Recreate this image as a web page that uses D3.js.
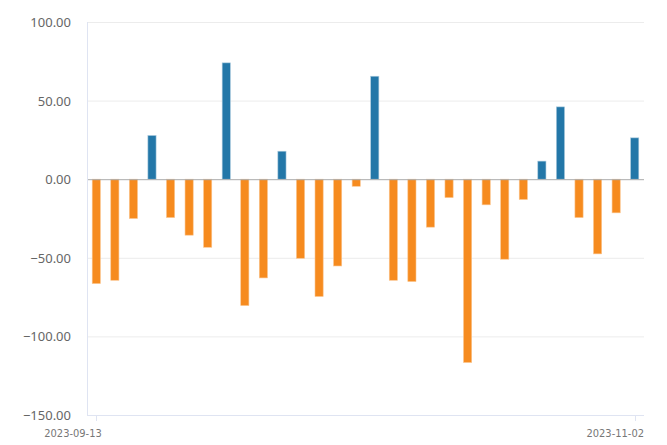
<!DOCTYPE html>
<meta charset="utf-8">
<style>
  body { margin: 0; background: #fff; }
  svg { font-family: "Noto Sans", "DejaVu Sans", sans-serif; }
  .ylab { fill: #666; font-size: 13px; text-anchor: end; }
  .xlab { fill: #777; font-size: 11px; font-family: "DejaVu Sans Condensed", "Liberation Sans Narrow", sans-serif; }
</style>
<svg id="chart" width="667" height="445"></svg>
<script src="https://d3js.org/d3.v7.min.js"></script>
<script>
// trading days (northbound closed 09-28 .. 10-06)
var dates = ["2023-09-13","2023-09-14","2023-09-15","2023-09-18","2023-09-19","2023-09-20",
  "2023-09-21","2023-09-22","2023-09-25","2023-09-26","2023-09-27","2023-10-09","2023-10-10",
  "2023-10-11","2023-10-12","2023-10-13","2023-10-16","2023-10-17","2023-10-18","2023-10-19",
  "2023-10-20","2023-10-23","2023-10-24","2023-10-25","2023-10-26","2023-10-27","2023-10-30",
  "2023-10-31","2023-11-01","2023-11-02"]
var values = [-66.4, -64.3, -25.0, 27.8, -24.4, -35.6, -43.3, 74.0, -80.4, -62.8,
  17.8, -50.3, -74.6, -55.2, -4.5, 65.5, -64.3, -65.1, -30.5, -11.7,
  -116.6, -16.3, -50.9, -12.9, 11.5, 46.0, -24.4, -47.5, -21.4, 26.3]
var yTicks = [-150, -100, -50, 0, 50, 100]
var shownDates = ["2023-09-13", "2023-11-02"]

var plotL = 87, plotR = 644, plotT = 22, plotB = 415

var svg = d3.select("#chart")

var x = d3.scaleBand().domain(dates).range([plotL, plotR]).paddingInner(0.56).paddingOuter(0.28)
var y = d3.scaleLinear().domain([-150, 100]).range([plotB, plotT])

// grid
svg.append("g").selectAll("line")
  .data(yTicks.filter(function(d) { return d != 0 && d != -150 }))
  .enter().append("line")
  .attr("x1", plotL).attr("x2", plotR)
  .attr("y1", function(d) { return y(d) + 0.5 }).attr("y2", function(d) { return y(d) + 0.5 })
  .style("stroke", "#ececec").style("stroke-width", 1)

// y labels
svg.append("g").selectAll("text")
  .data(yTicks).enter().append("text")
  .attr("class", "ylab")
  .attr("x", 71).attr("y", function(d) { return y(d) + 5 })
  .text(function(d) { return d.toFixed(2).replace("-", "\u2212") })

// bars
svg.append("g").selectAll("rect")
  .data(values).enter().append("rect")
  .attr("x", function(d, i) { return x(dates[i]) })
  .attr("width", x.bandwidth())
  .attr("y", function(d) { return d > 0 ? y(d) : y(0) })
  .attr("height", function(d) { return Math.abs(y(d) - y(0)) })
  .style("fill", function(d) { return d > 0 ? "#2377a8" : "#f68b1f" })
  .style("stroke", function(d) { return d > 0 ? "#a9c9dd" : "#fbc58f" })
  .style("stroke-width", 0.6)

// zero line
svg.append("line")
  .attr("x1", plotL).attr("x2", plotR)
  .attr("y1", y(0) + 0.5).attr("y2", y(0) + 0.5)
  .style("stroke", "#aaa").style("stroke-width", 1)

// axes lines
svg.append("line")
  .attr("x1", plotL + 0.5).attr("x2", plotL + 0.5).attr("y1", plotT).attr("y2", plotB)
  .style("stroke", "#dfe4f2")
svg.append("line")
  .attr("x1", plotL).attr("x2", plotR).attr("y1", plotB + 0.5).attr("y2", plotB + 0.5)
  .style("stroke", "#dfe4f2")

// x ticks + labels
var xt = svg.append("g").selectAll("g").data(shownDates).enter().append("g")
xt.append("line")
  .attr("x1", function(d) { return Math.round(x(d) + x.bandwidth() / 2) + 0.5 })
  .attr("x2", function(d) { return Math.round(x(d) + x.bandwidth() / 2) + 0.5 })
  .attr("y1", plotB).attr("y2", plotB + 6)
  .style("stroke", "#dfe4f2")
xt.append("text")
  .attr("class", "xlab")
  .attr("x", function(d, i) { return i == 0 ? x(d) + x.bandwidth() / 2 - 52 : 644 })
  .attr("y", 437)
  .attr("text-anchor", function(d, i) { return i == 0 ? "start" : "end" })
  .text(function(d) { return d })
</script>
